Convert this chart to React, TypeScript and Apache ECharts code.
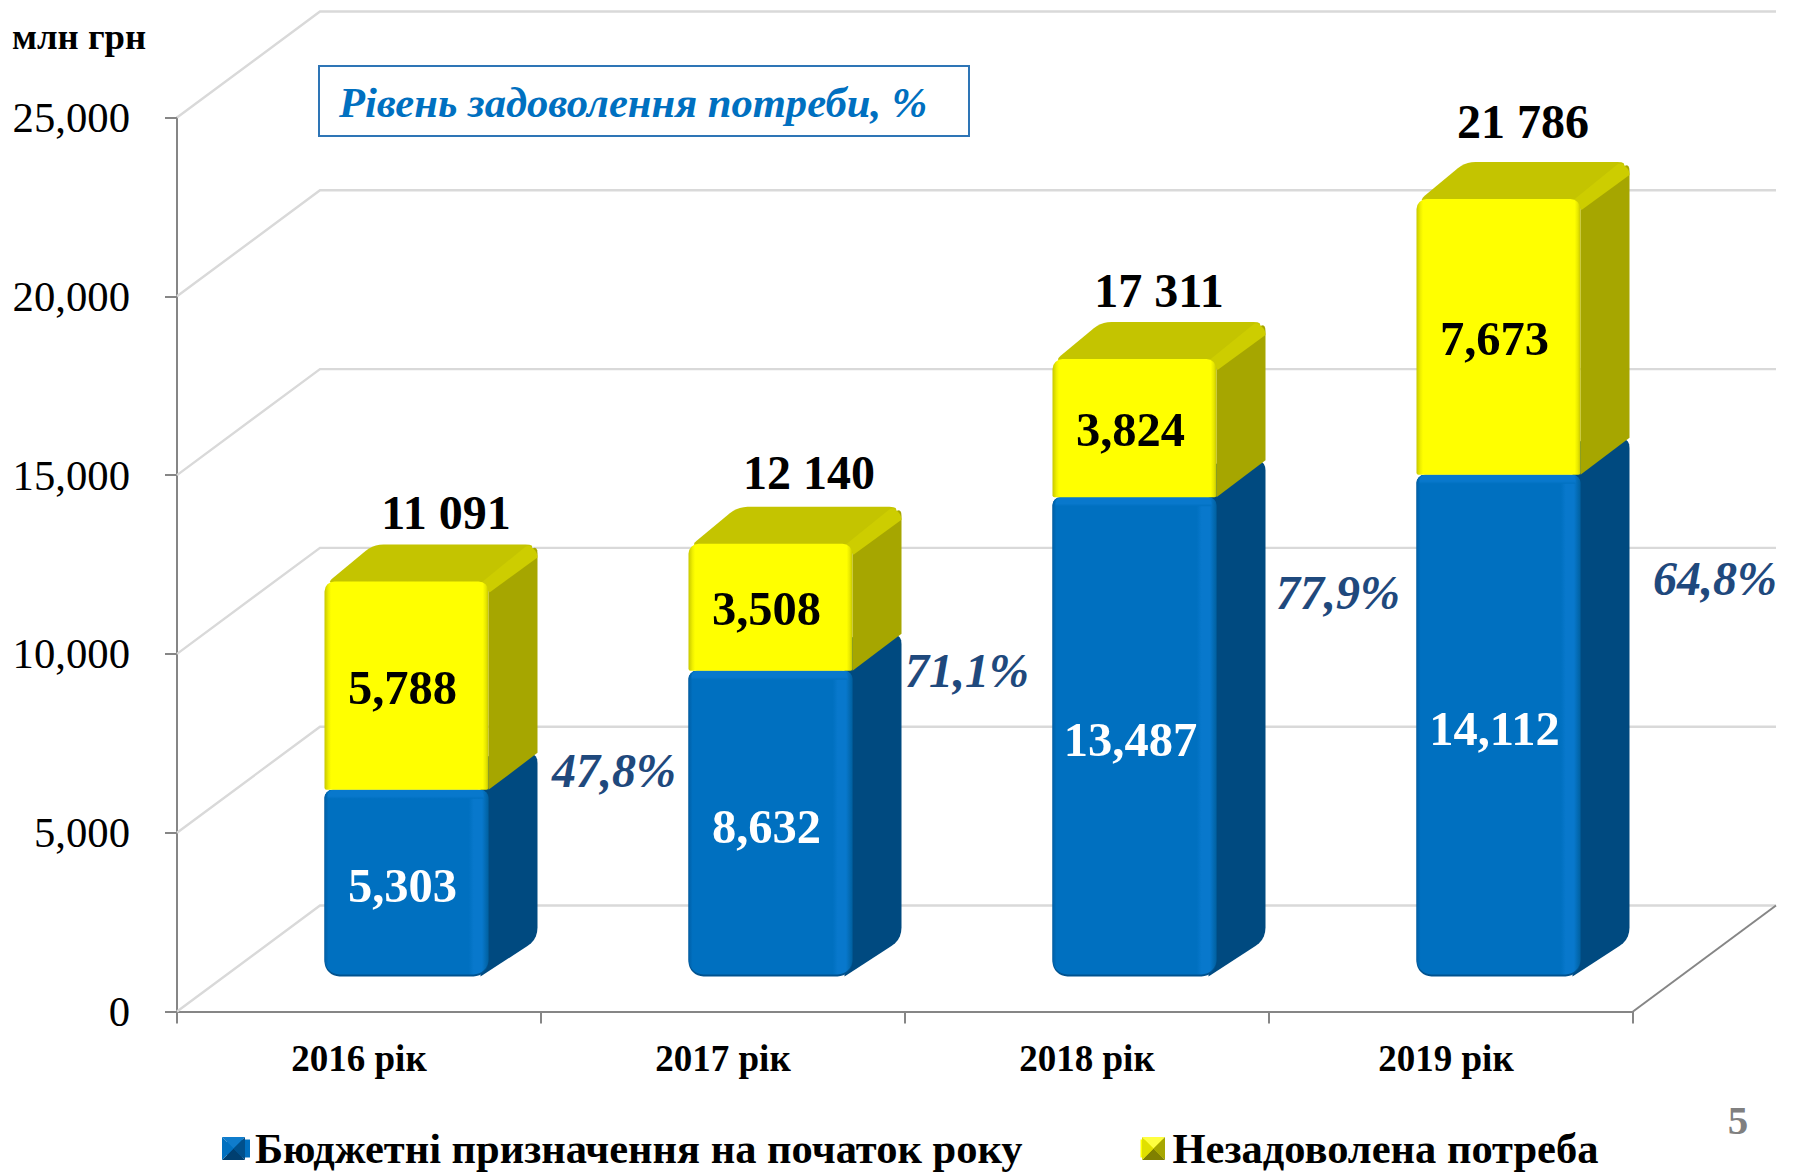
import React, { useEffect, useRef } from "react";
import * as echarts from "echarts";

const categories = ["2016 рік", "2017 рік", "2018 рік", "2019 рік"];
const budget = [5303, 8632, 13487, 14112];
const unmet = [5788, 3508, 3824, 7673];
const totalLabels = ["11 091", "12 140", "17 311", "21 786"];
const levelLabels = ["47,8%", "71,1%", "77,9%", "64,8%"];
const yTicks = [0, 5000, 10000, 15000, 20000, 25000];
const seriesNames = ["Бюджетні призначення на початок року", "Незадоволена потреба"];

const FONT = "'Liberation Serif', 'Times New Roman', serif";
const GRID = { left: 177, right: 1633, top: 117.5, bottom: 1011.5 };
const WALL = { dx: 143, dy: 106 };
const BAR = { shiftX: 47.5, shiftY: -35, width: 164, dx: 49, dy: 37 };

const totalPos = [[446, 512], [809, 472], [1159, 290], [1523, 121]];
const levelPos = [[614, 770], [967, 670], [1338, 592], [1715, 578]];

type P = number[];
function roundPoly(pts: P[], radii: number[]): P[] {
  const out: P[] = [];
  const n = pts.length;
  for (let i = 0; i < n; i++) {
    const p = pts[i];
    const r = radii[i] || 0;
    if (!r) {
      out.push(p);
      continue;
    }
    const a = pts[(i + n - 1) % n];
    const b = pts[(i + 1) % n];
    const la = Math.hypot(a[0] - p[0], a[1] - p[1]);
    const lb = Math.hypot(b[0] - p[0], b[1] - p[1]);
    const s = [p[0] + ((a[0] - p[0]) * r) / la, p[1] + ((a[1] - p[1]) * r) / la];
    const e = [p[0] + ((b[0] - p[0]) * r) / lb, p[1] + ((b[1] - p[1]) * r) / lb];
    for (let k = 0; k <= 5; k++) {
      const t = k / 5;
      const u = 1 - t;
      out.push([
        u * u * s[0] + 2 * u * t * p[0] + t * t * e[0],
        u * u * s[1] + 2 * u * t * p[1] + t * t * e[1],
      ]);
    }
  }
  return out;
}

const hGrad = (stops: [number, string][]) =>
  new echarts.graphic.LinearGradient(0, 0, 1, 0, stops.map(([offset, color]) => ({ offset, color })));
const vGrad = (stops: [number, string][]) =>
  new echarts.graphic.LinearGradient(0, 0, 0, 1, stops.map(([offset, color]) => ({ offset, color })));

function poly(points: P[], fill: any) {
  return { type: "polygon", shape: { points }, style: { fill }, silent: true };
}

function renderWall(params: any, api: any) {
  const cs = params.coordSys;
  const v = api.value(1);
  const y = api.coord([0, v])[1];
  const x0 = cs.x;
  const x1 = cs.x + cs.width;
  const grey = { stroke: "#D9D9D9", lineWidth: 2.4, fill: "none" };
  const children: any[] = [
    {
      type: "polyline",
      shape: { points: [[x0, y], [x0 + WALL.dx, y - WALL.dy], [x1 + WALL.dx, y - WALL.dy]] },
      style: grey,
      silent: true,
    },
  ];
  if (v === 0) {
    children.push({
      type: "line",
      shape: { x1, y1: y, x2: x1 + WALL.dx, y2: y - WALL.dy },
      style: { stroke: "#868686", lineWidth: 2 },
      silent: true,
    });
  }
  return { type: "group", children };
}

function barGeom(api: any) {
  const i = api.value(0);
  const [cx, yB] = api.coord([i, api.value(1)]);
  const yT = api.coord([i, api.value(2)])[1];
  const xL = cx + BAR.shiftX - BAR.width / 2;
  return { xL, xR: xL + BAR.width, yB: yB + BAR.shiftY, yT: yT + BAR.shiftY, i };
}

function valueText(text: string, x: number, y: number, fill: string) {
  return {
    type: "text",
    silent: true,
    style: {
      text,
      x,
      y,
      fill,
      fontFamily: FONT,
      fontWeight: "bold",
      fontSize: 48.5,
      align: "center",
      verticalAlign: "middle",
    },
  };
}

function renderBudget(_: any, api: any) {
  const { xL, xR, yB, yT, i } = barGeom(api);
  const { dx, dy } = BAR;
  const top = yT + 3;
  const w = xR - xL;
  return {
    type: "group",
    children: [
      poly(
        roundPoly(
          [[xR - 8, yB], [xR + dx, yB - dy], [xR + dx, top - dy], [xR - 8, top - dy + 4]],
          [0, 12, 10, 0]
        ),
        "#004A80"
      ),
      {
        type: "rect",
        silent: true,
        shape: { x: xL, y: top, width: w, height: yB - top, r: [8, 8, 15, 15] },
        style: { fill: "#00528F" },
      },
      {
        type: "rect",
        silent: true,
        shape: { x: xL, y: top, width: w, height: yB - top - 2, r: [8, 8, 15, 15] },
        style: {
          fill: hGrad([
            [0, "#005FA6"],
            [0.025, "#0070C0"],
            [0.88, "#0070C0"],
            [0.91, "#0878CC"],
            [0.96, "#0878CC"],
            [1, "#00609F"],
          ]),
        },
      },
      {
        type: "rect",
        silent: true,
        shape: { x: xL + 3, y: top, width: w - 8, height: 9, r: [6, 6, 0, 0] },
        style: { fill: vGrad([[0, "#0878CC"], [0.7, "#0878CC"], [1, "#0070C0"]]) },
      },
      valueText(budget[i].toLocaleString("en-US"), xL + w / 2 - 4, (top + yB) / 2 + 2.5, "#FFFFFF"),
    ],
  };
}

function renderUnmet(_: any, api: any) {
  const g = barGeom(api);
  const { xL, xR, yB, i } = g;
  const yT = g.yT + 1.5;
  const { dx, dy } = BAR;
  const bottom = yB + 3;
  const w = xR - xL;
  return {
    type: "group",
    children: [
      poly(
        roundPoly(
          [[xR, yT], [xR + dx, yT - dy], [xR + dx, bottom - dy], [xR, bottom]],
          [0, 9, 0, 0]
        ),
        "#A6A600"
      ),
      poly(
        roundPoly(
          [[xL + 2, yT + 2], [xL + dx, yT - dy], [xR + dx, yT - dy], [xR, yT + 2]],
          [8, 10, 12, 0]
        ),
        "#C4C400"
      ),
      poly(
        roundPoly(
          [[xR - 7, yT + 1], [xR + dx - 9, yT - dy], [xR + dx, yT - dy + 8], [xR + dx, yT - dy + 13], [xR + 1, yT + 11]],
          [0, 5, 5, 0, 0]
        ),
        "#CDCD00"
      ),
      {
        type: "rect",
        silent: true,
        shape: { x: xL, y: yT, width: w, height: bottom - yT, r: [10, 10, 2, 2] },
        style: {
          fill: hGrad([
            [0, "#C8C800"],
            [0.025, "#F0F000"],
            [0.04, "#FFFF00"],
            [0.965, "#FFFF00"],
            [0.985, "#E6E600"],
            [1, "#C4C400"],
          ]),
        },
      },
      valueText(unmet[i].toLocaleString("en-US"), xL + w / 2 - 4, (yT + bottom) / 2 + 1.5, "#000000"),
    ],
  };
}

function pyramid(x: number, y: number, s: number, faces: string[]) {
  const c = [x + s / 2, y + s / 2];
  const tl = [x, y];
  const tr = [x + s, y];
  const br = [x + s, y + s];
  const bl = [x, y + s];
  const tris = [
    [tl, tr, c],
    [tr, br, c],
    [br, bl, c],
    [bl, tl, c],
  ];
  return tris.map((points, k) => ({
    type: "polygon",
    z: 110,
    silent: true,
    shape: { points },
    style: { fill: faces[k] },
  }));
}

function overlayText(text: string, x: number, y: number, fontSize: number, fill: string, extra: any = {}) {
  return {
    type: "text",
    z: 100,
    silent: true,
    x,
    y,
    style: {
      text,
      fill,
      fontFamily: FONT,
      fontWeight: "bold",
      fontSize,
      align: "center",
      verticalAlign: "middle",
      ...extra,
    },
  };
}

export default function App() {
  const ref = useRef<HTMLDivElement>(null);
  useEffect(() => {
    document.body.style.margin = "0";
    const chart = echarts.init(ref.current!, undefined, { renderer: "svg" });
    const barData = (lo: number[], hi: number[]) => lo.map((v, i) => [i, v, hi[i]]);
    const stackTop = budget.map((v, i) => v + unmet[i]);
    chart.setOption({
      animation: false,
      backgroundColor: "#FFFFFF",
      grid: {
        left: GRID.left,
        width: GRID.right - GRID.left,
        top: GRID.top,
        height: GRID.bottom - GRID.top,
        containLabel: false,
      },
      xAxis: {
        type: "category",
        data: categories.map((value, i) => ({
          value,
          textStyle: i === 3 ? { padding: [0, 10, 0, 0] } : {},
        })),
        boundaryGap: true,
        axisLine: { lineStyle: { color: "#868686", width: 2 } },
        axisTick: { show: true, length: 12, lineStyle: { color: "#868686", width: 2 } },
        axisLabel: {
          margin: 28,
          fontFamily: FONT,
          fontWeight: "bold",
          fontSize: 37,
          color: "#000000",
          interval: 0,
        },
        splitLine: { show: false },
      },
      yAxis: {
        type: "value",
        min: 0,
        max: 25000,
        interval: 5000,
        axisLine: { show: true, lineStyle: { color: "#868686", width: 2 } },
        axisTick: { show: true, length: 12, lineStyle: { color: "#868686", width: 2 } },
        axisLabel: {
          margin: 47,
          fontFamily: FONT,
          fontSize: 42.7,
          color: "#000000",
          formatter: (v: number) => v.toLocaleString("en-US"),
        },
        splitLine: { show: false },
      },
      legend: {
        data: [
          { name: seriesNames[0] },
          { name: seriesNames[1], textStyle: { padding: [0, 0, 0, 4] } },
        ],
        left: 222,
        top: 1122,
        icon: "rect",
        itemWidth: 23,
        itemHeight: 18,
        itemGap: 118,
        selectedMode: false,
        textStyle: {
          fontFamily: FONT,
          fontWeight: "bold",
          fontSize: 42.5,
          color: "#000000",
          padding: 0,
        },
      },
      series: [
        {
          type: "custom",
          name: "wall",
          silent: true,
          renderItem: renderWall,
          data: yTicks.map((v) => [0, v]),
          z: 1,
        },
        {
          type: "custom",
          name: seriesNames[0],
          itemStyle: { color: "#0070C0" },
          renderItem: renderBudget,
          encode: { x: 0, y: [1, 2] },
          data: barData(budget.map(() => 0), budget),
          z: 2,
        },
        {
          type: "custom",
          name: seriesNames[1],
          itemStyle: { color: "#FFFF00" },
          renderItem: renderUnmet,
          encode: { x: 0, y: [1, 2] },
          data: barData(budget, stackTop),
          z: 3,
        },
      ],
      graphic: [
        {
          type: "rect",
          z: 90,
          silent: true,
          shape: { x: 319, y: 66, width: 650, height: 70 },
          style: { fill: "#FFFFFF", stroke: "#2E75B6", lineWidth: 2 },
        },
        overlayText("Рівень задоволення потреби, %", 339, 102, 42.6, "#0070C0", {
          align: "left",
          fontStyle: "italic",
        }),
        overlayText("млн грн", 12, 36, 36.7, "#000000", { align: "left" }),
        overlayText("5", 1738, 1120, 41, "#808080"),
        ...totalLabels.map((t, i) => overlayText(t, totalPos[i][0], totalPos[i][1], 48, "#000000")),
        ...levelLabels.map((t, i) =>
          overlayText(t, levelPos[i][0], levelPos[i][1], 48, "#1F497D", { fontStyle: "italic" })
        ),
        ...pyramid(222, 1137, 23, ["#0F7CCC", "#00508C", "#003F70", "#0070C0"]),
        ...pyramid(1142, 1137, 23, ["#FFFF40", "#A6A600", "#808000", "#E0E000"]),
      ],
    });
    return () => chart.dispose();
  }, []);
  return (
    <div
      ref={ref}
      style={{ position: "absolute", left: 0, top: 0, width: 1794, height: 1173 }}
    />
  );
}
